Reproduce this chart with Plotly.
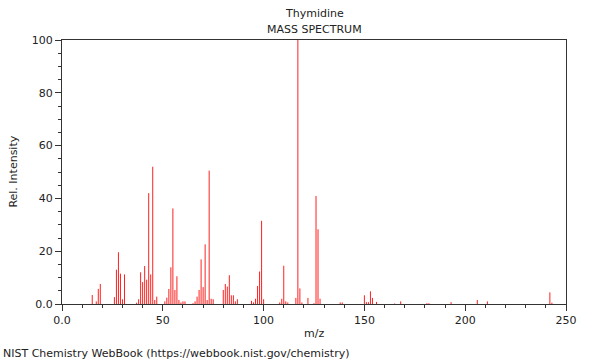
import plotly.graph_objects as go

# m/z values and relative intensities
mz = [15, 17, 18, 19, 26, 27, 28, 29, 30, 31, 37, 38, 39, 40, 41, 42, 43, 44, 45, 46, 47,
      51, 52, 53, 54, 55, 56, 57, 58, 59, 60, 61, 65, 66, 67, 68, 69, 70, 71, 72, 73, 74, 75,
      80, 81, 82, 83, 84, 85, 86, 87, 94, 95, 96, 97, 98, 99, 100,
      108, 109, 110, 111, 112, 116, 117, 118, 119, 122, 125, 126, 127, 128, 138, 139,
      150, 151, 152, 153, 154, 156, 165, 168, 181, 182, 193, 206, 211, 242, 243]
intensity = [3.4, 1.0, 5.7, 7.6, 2.6, 13.0, 19.6, 11.5, 1.8, 11.2, 0.5, 1.8, 12.0, 8.3, 14.4, 9.2, 42.0, 11.2, 52.0, 1.5, 2.8,
             1.0, 2.4, 5.7, 13.9, 36.2, 5.3, 10.5, 1.5, 0.6, 1.0, 1.0, 0.3, 1.0, 2.8, 5.3, 16.9, 6.4, 22.6, 1.5, 50.5, 2.0, 1.8,
             5.3, 7.6, 6.6, 10.9, 3.3, 3.3, 1.0, 1.8, 1.2, 0.6, 2.0, 6.8, 12.3, 31.5, 1.8,
             0.6, 2.0, 14.5, 1.0, 0.6, 2.3, 100.0, 5.9, 0.6, 2.3, 0.3, 40.9, 28.3, 2.0, 0.6, 0.6,
             3.3, 0.7, 0.7, 4.8, 2.3, 0.8, 0.2, 1.0, 0.3, 0.3, 0.7, 1.5, 1.0, 4.4, 0.5]

x_ticks = [0, 50, 100, 150, 200, 250]
x_ticktext = ["0.0", "50", "100", "150", "200", "250"]
y_ticks = [0, 20, 40, 60, 80, 100]
y_ticktext = ["0.0", "20", "40", "60", "80", "100"]

xs, ys = [], []
for m, h in zip(mz, intensity):
    xs += [m, m, None]
    ys += [0, h, None]

FONT = "DejaVu Sans"
fig = go.Figure(go.Scatter(x=xs, y=ys, mode="lines",
                           line=dict(color="#ff2020", width=1), hoverinfo="skip"))

axis_common = dict(showline=True, linecolor="#333333", linewidth=1, mirror=True,
                   ticks="outside", ticklen=6, tickcolor="#333333", showgrid=False,
                   zeroline=False, tickfont=dict(family=FONT, size=11, color="#222"))
fig.update_layout(
    width=600, height=360,
    margin=dict(l=62, r=34, t=40, b=56),
    paper_bgcolor="white", plot_bgcolor="white",
    showlegend=False,
    font=dict(family=FONT, size=11, color="#222"),
    xaxis=dict(range=[0, 250], tickvals=x_ticks, ticktext=x_ticktext,
               minor=dict(dtick=10, tick0=0, ticks="outside", ticklen=3, tickcolor="#333333"),
               **axis_common),
    yaxis=dict(range=[0, 100], tickvals=y_ticks, ticktext=y_ticktext,
               minor=dict(dtick=5, tick0=0, ticks="outside", ticklen=3, tickcolor="#333333"),
               **axis_common),
    annotations=[
        dict(text="Thymidine", xref="paper", yref="paper", x=0.5, y=1.102,
             xanchor="center", yanchor="middle", showarrow=False, font=dict(size=11)),
        dict(text="MASS SPECTRUM", xref="paper", yref="paper", x=0.5, y=1.038,
             xanchor="center", yanchor="middle", showarrow=False, font=dict(size=11)),
        dict(text="m/z", xref="paper", yref="paper", x=0.5, y=-0.11,
             xanchor="center", yanchor="middle", showarrow=False, font=dict(size=11)),
        dict(text="Rel. Intensity", xref="paper", yref="paper", x=-0.098, y=0.5,
             xanchor="center", yanchor="middle", textangle=-90, showarrow=False, font=dict(size=11)),
        dict(text="NIST Chemistry WebBook (https://webbook.nist.gov/chemistry)",
             xref="paper", yref="paper", x=-0.121, y=-0.186,
             xanchor="left", yanchor="middle", showarrow=False, font=dict(size=11)),
    ],
)
fig.write_html("out.html", config={"displayModeBar": False},
               post_script="document.body.style.margin='0';document.body.style.padding='0';")
